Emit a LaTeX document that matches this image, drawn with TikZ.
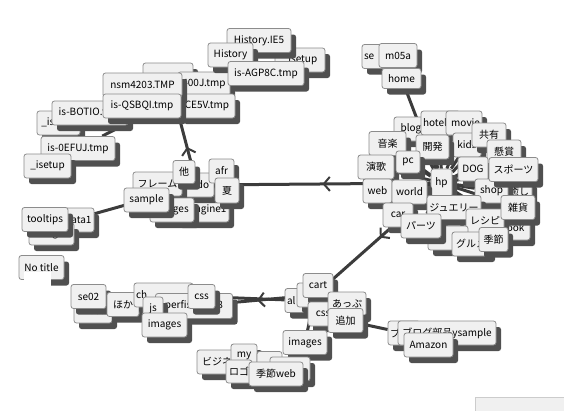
\documentclass[tikz,border=0pt]{standalone}
\usepackage{fontspec}
\setmainfont{Noto Sans CJK JP}
\usetikzlibrary{arrows.meta, shadows, decorations.markings, backgrounds}
\definecolor{boxfill}{HTML}{F0F0F0}
\definecolor{boxline}{HTML}{8C8C8C}
\definecolor{shade}{HTML}{505050}
\definecolor{linkgray}{HTML}{3C3C3C}

\begin{document}
\begin{tikzpicture}[
    x=1pt, y=-1pt,
    every node/.style={font=\fontsize{10}{11}\selectfont},
    tag/.style={draw=boxline, line width=0.8pt, fill=boxfill, rounded corners=2.5pt,
        minimum height=24pt, inner xsep=2pt, inner ysep=0pt,
        drop shadow={shadow xshift=5pt, shadow yshift=-6pt, fill=shade, opacity=1}},
    lft/.style={text width=#1, align=left},
    rgt/.style={text width=#1, align=right},
    link/.style={draw=linkgray, line width=3pt},
    dirlink/.style={link, postaction={decorate}, decoration={markings,
        mark=at position #1 with {\arrow[linkgray, line width=2pt]{Straight Barb[length=6pt, width=14pt]}}}}
]
\useasboundingbox (0,0) rectangle (564,410);

% tmp files
\node[tag, minimum width=50pt] (tmproot) at (168,75) {};
\node[tag, minimum width=52pt] (tmp400j) at (204,84) {400J.tmp};
\node[tag, minimum width=56pt] (ce5v) at (207,106) {CE5V.tmp};
\node[tag, minimum width=79pt] (nsm) at (142.5,85) {nsm4203.TMP};
\node[tag, minimum width=43pt] (isetupa) at (58.5,123) {\_isetup};
\node[tag, minimum width=76pt] (botio) at (90,113) {is-BOTIO.tmp};
\node[tag, minimum width=78pt] (qsbqi) at (142,106) {is-QSBQI.tmp};
\node[tag, minimum width=74pt] (oefuj) at (78,148.5) {is-0EFUJ.tmp};
\node[tag, minimum width=47pt] (isetupb) at (47.5,166) {\_isetup};
\node[tag, minimum width=50pt] (isetupc) at (300,60) {\_isetup};
\node[tag, minimum width=64pt] (histie) at (259,40.5) {History.IE5};
\node[tag, minimum width=45pt] (hist) at (230.5,55) {History};
\node[tag, minimum width=76pt] (agp8c) at (266,73.5) {is-AGP8C.tmp};

% left middle
\node[tag, minimum width=54pt, rgt=49pt] (engine) at (202,210) {engine1};
\node[tag, minimum width=34pt] (ondo) at (197,185) {ondo};
\node[tag, minimum width=49pt] (frame) at (157.5,184) {フレーム};
\node[tag, minimum width=22pt, minimum height=23pt] (hoka) at (184,172) {他};
\node[tag, minimum width=25pt] (afr) at (221.5,171) {afr};
\node[tag, minimum width=24pt, minimum height=25pt] (natsu) at (227,190.5) {夏};
\node[tag, minimum width=44pt] (imgmid) at (172,210) {images};
\node[tag, minimum width=45pt] (sample) at (146.5,200) {sample};

\node[tag, minimum width=44pt, rgt=39pt] (data1) at (72,220) {data1};
\node[tag, minimum width=45pt, minimum height=22pt] (imgleft) at (51.5,234) {images};
\node[tag, minimum width=46pt] (tooltips) at (45,219.5) {tooltips};

\node[tag, minimum width=45pt] (notitle) at (41.5,267.5) {No title};
\fill[white] (24,272) rectangle (51,286);

% bottom left
\node[tag, minimum width=38pt] (m05b) at (93,311) {m05a};
\node[tag, minimum width=35pt] (se02) at (88.5,296.5) {se02};
\node[tag, minimum width=32pt] (hoka2) at (123,304.5) {ほか};
\node[tag, minimum width=59pt, lft=55pt] (ch) at (163.5,295) {ch};
\node[tag, minimum width=77pt, minimum height=25pt] (perfish) at (194,306) {perfish-1.1.8};
\node[tag, minimum width=20pt] (js) at (153,309) {js};
\node[tag, minimum width=27pt] (css2) at (201.5,296.5) {css};
\node[tag, minimum width=45pt] (imgbl) at (164.5,325) {images};

% bottom
\node[tag, minimum width=30pt, lft=26pt] (al) at (300,300.5) {al};
\node[tag, minimum width=36pt] (html) at (315,295) {html};
\node[tag, minimum width=30pt] (cart) at (318,285.5) {cart};
\node[tag, minimum width=30pt] (css3) at (323,314) {css};
\node[tag, minimum width=38pt] (up) at (347,304) {あっぷ};
\node[tag, minimum width=35pt] (tsuika) at (345.5,320.5) {追加};
\node[tag, minimum width=44pt] (imgbot) at (305,342.5) {images};

\node[tag, minimum width=50pt] (biz) at (222,362) {ビジネス};
\node[tag, minimum width=26pt] (my) at (244,356) {my};
\node[tag, minimum width=25pt] (dotbox) at (269.5,363.5) {};
\node[tag, minimum width=40pt] (blankbox) at (290,369) {};
\node[tag, minimum width=26pt, minimum height=23pt] (logo) at (239,371.5) {ロゴ};
\node[tag, minimum width=54pt] (kisetsuweb) at (276,374) {季節web};

\node[tag, minimum width=32pt, lft=28pt] (bu) at (404,333) {ブ};
\node[tag, minimum width=98pt] (ysample) at (447,333) {ブログ部品ysample};
\node[tag, minimum width=49pt] (amazon) at (428.5,345) {Amazon};

% top right
\node[tag, minimum width=30pt, lft=26pt] (se) at (377,56.5) {se};
\node[tag, minimum width=38pt] (m05a) at (398,55.5) {m05a};
\node[tag, minimum width=39pt, minimum height=20pt] (home) at (401.5,78.5) {home};

% hp
\node[tag, minimum width=34pt] (blog) at (411,129) {blog};
\node[tag, minimum width=39pt, lft=35pt] (hotel) at (440.5,123) {hotel};
\node[tag, minimum width=36pt, rgt=32pt] (movie) at (464,123) {movie};
\node[tag, minimum width=28pt] (kids) at (467,145) {kids};
\node[tag, minimum width=34pt] (kyouyu) at (489,135) {共有};
\node[tag, minimum width=34pt] (kenshou) at (504,152) {懸賞};
\node[tag, minimum width=37pt] (ongaku) at (387.5,143.5) {音楽};
\node[tag, minimum width=33pt] (kaihatsu) at (432.5,147) {開発};
\node[tag, minimum width=36pt] (enka) at (376,167) {演歌};
\node[tag, minimum width=24pt, minimum height=22pt] (pc) at (408,162) {pc};
\node[tag, minimum width=30pt] (dog) at (473,169) {DOG};
\node[tag, minimum width=26pt] (iyashi) at (519,192) {癒し};
\node[tag, minimum width=33pt] (shop) at (491.5,191) {shop};
\node[tag, minimum width=49pt] (sports) at (513.5,169.5) {スポーツ};
\node[tag, minimum width=21pt, minimum height=28pt] (hp) at (441.5,183) {hp};
\node[tag, minimum width=29pt] (web) at (377.5,191) {web};
\node[tag, minimum width=35pt] (world) at (409.5,192) {world};
\node[tag, minimum width=30pt] (car) at (398,215) {car};
\node[tag, minimum width=54pt] (jewelry) at (454,207.5) {ジュエリー};
\node[tag, minimum width=35pt] (book) at (512.5,228) {book};
\node[tag, minimum width=38pt] (recipe) at (485,221) {レシピ};
\node[tag, minimum width=34pt] (zakka) at (518,207.5) {雑貨};
\node[tag, minimum width=40pt, lft=36pt] (pcx) at (448,238) {pc};
\node[tag, minimum width=40pt] (parts) at (421,226) {パーツ};
\node[tag, minimum width=38pt] (gourmet) at (471,244) {グルメ};
\node[tag, minimum width=29pt] (kisetsu) at (493.5,239.5) {季節};

\draw[draw=black!20, fill=boxfill] (475,397) rectangle (566,412);

\begin{scope}[on background layer]
\draw[dirlink=0.5] (hp) -- (ondo);
\draw[dirlink=0.5] (hp) -- (html);
\draw[dirlink=0.3] (ondo) -- (tmproot);
\draw[dirlink=0.62] (html) -- (perfish);
\draw[link] (al) -- (css2);
\draw[link] (hp) -- (home);
\draw[link] (ondo) -- (data1);
\draw[link] (tmp400j) -- (oefuj);
\draw[link] (tsuika) -- (bu);
\draw[link] (html) -- (imgbot);
\foreach \n in {blog,hotel,movie,kids,kyouyu,kenshou,ongaku,kaihatsu,enka,pc,dog,iyashi,shop,sports,web,world,car,jewelry,book,recipe,zakka,pcx,parts,gourmet,kisetsu}
    \draw[link] (hp) -- (\n);
\end{scope}
\end{tikzpicture}
\end{document}
